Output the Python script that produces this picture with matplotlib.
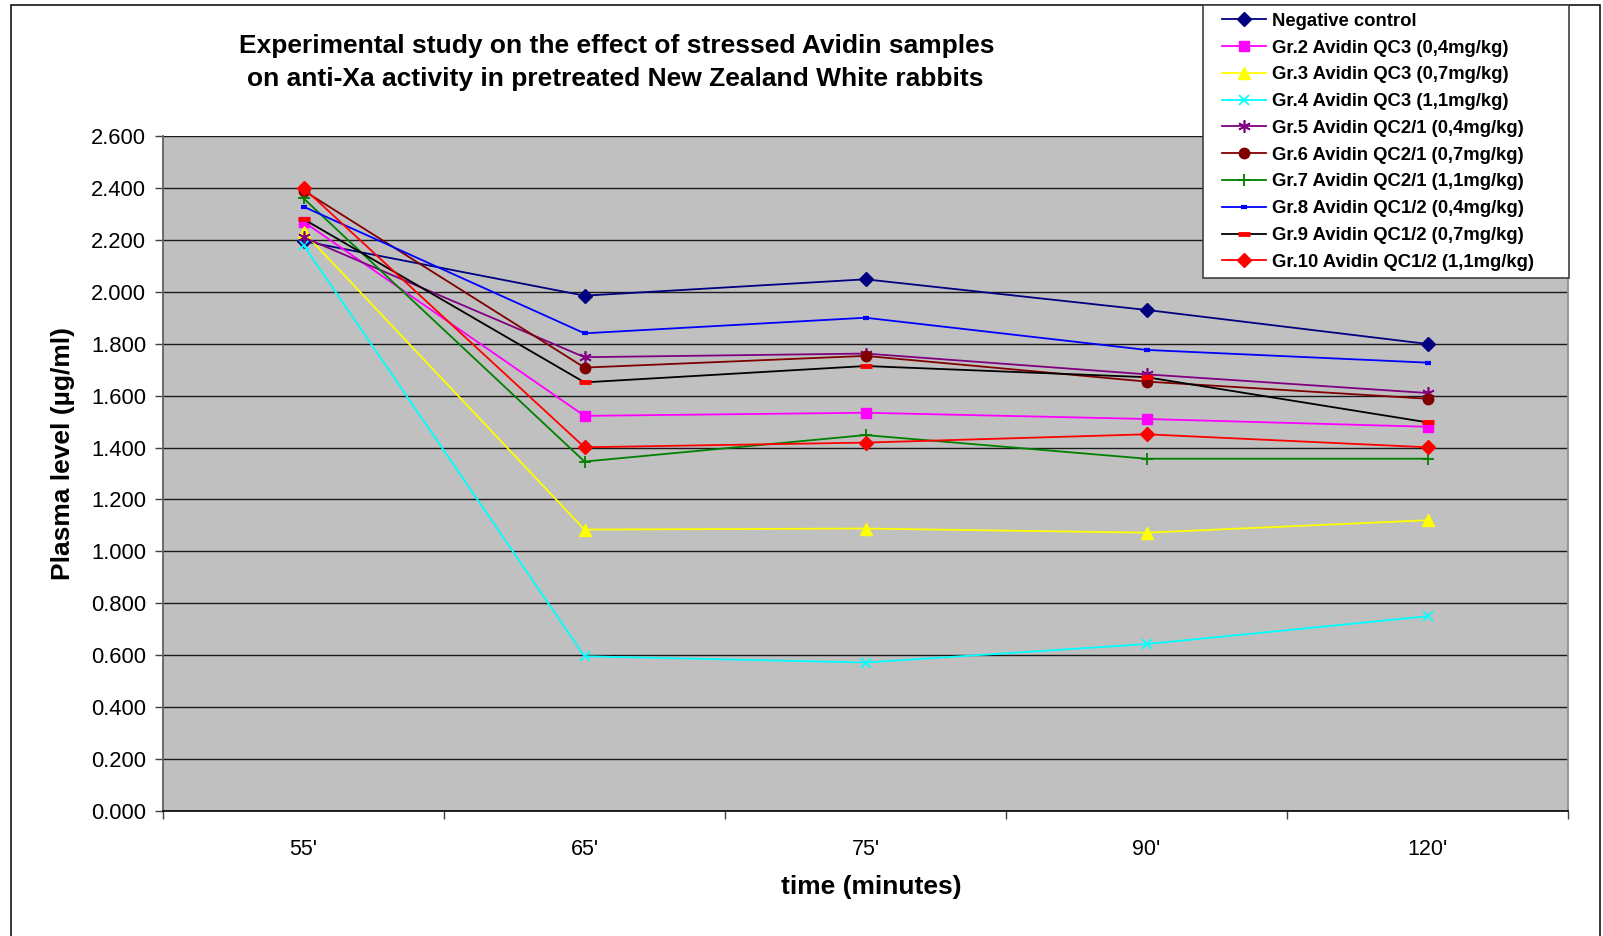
import matplotlib
matplotlib.use("Agg")
import matplotlib.pyplot as plt
from matplotlib.patches import Rectangle
from matplotlib.ticker import FixedLocator, FormatStrFormatter

plt.rcParams['font.family'] = ['Liberation Sans', 'DejaVu Sans']

times = ["55'", "65'", "75'", "90'", "120'"]
neg_control = [2.195, 1.985, 2.048, 1.930, 1.799]
gr2 = [2.270, 1.522, 1.534, 1.510, 1.480]
gr3 = [2.230, 1.084, 1.088, 1.072, 1.120]
gr4 = [2.180, 0.596, 0.572, 0.643, 0.750]
gr5 = [2.210, 1.748, 1.762, 1.682, 1.610]
gr6 = [2.390, 1.708, 1.753, 1.654, 1.588]
gr7 = [2.360, 1.346, 1.448, 1.357, 1.357]
gr8 = [2.328, 1.840, 1.900, 1.776, 1.727]
gr9 = [2.280, 1.651, 1.714, 1.671, 1.497]
gr10 = [2.400, 1.401, 1.419, 1.451, 1.401]

labels = ["Negative control",
          "Gr.2 Avidin QC3 (0,4mg/kg)",
          "Gr.3 Avidin QC3 (0,7mg/kg)",
          "Gr.4 Avidin QC3 (1,1mg/kg)",
          "Gr.5 Avidin QC2/1 (0,4mg/kg)",
          "Gr.6 Avidin QC2/1 (0,7mg/kg)",
          "Gr.7 Avidin QC2/1 (1,1mg/kg)",
          "Gr.8 Avidin QC1/2 (0,4mg/kg)",
          "Gr.9 Avidin QC1/2 (0,7mg/kg)",
          "Gr.10 Avidin QC1/2 (1,1mg/kg)"]
series = [neg_control, gr2, gr3, gr4, gr5, gr6, gr7, gr8, gr9, gr10]

# style: (line color, marker, marker color, marker size, mew)
styles = [
    ('#000080', 'D', '#000080', 7.5, 1.0),
    ('#FF00FF', 's', '#FF00FF', 7.0, 1.0),
    ('#FFFF00', '^', '#FFFF00', 8.0, 1.0),
    ('#00FFFF', 'x', '#00FFFF', 7.5, 1.3),
    ('#800080', (6, 2, 0), '#800080', 9.0, 1.2),
    ('#800000', 'o', '#800000', 7.5, 1.0),
    ('#008000', '+', '#008000', 9.0, 1.3),
    ('#0000FF', '_', '#0000FF', 5.0, 3.0),
    ('#000000', '_', '#FF0000', 8.0, 3.5),
    ('#FF0000', 'D', '#FF0000', 7.5, 1.0),
]

W, H = 1603, 936
fig = plt.figure(figsize=(W / 100, H / 100), dpi=100)
fig.patch.set_facecolor('white')

L, R, T, B = 163, 1568, 136, 811
ax = fig.add_axes([L / W, (H - B) / H, (R - L) / W, (B - T) / H])
ax.set_facecolor('#C0C0C0')

x = list(range(len(times)))
for vals, lab, (lc, mk, mc, ms, mew) in zip(series, labels, styles):
    ax.plot(x, vals, color=lc, lw=1.3, marker=mk, markersize=ms,
            markerfacecolor=mc, markeredgecolor=mc, markeredgewidth=mew,
            label=lab, zorder=3)

ax.set_xlim(-0.5, len(times) - 0.5)
ax.set_ylim(0, 2.6)
yt = [i * 0.2 for i in range(14)]
ax.set_yticks(yt)
ax.yaxis.set_major_formatter(FormatStrFormatter('%.3f'))
ax.yaxis.grid(True, color='#1a1a1a', lw=1.0)
ax.set_axisbelow(True)

ax.xaxis.set_major_locator(FixedLocator([i - 0.5 for i in range(len(times) + 1)]))
ax.xaxis.set_minor_locator(FixedLocator(x))
ax.set_xticklabels([])
ax.set_xticklabels(times, minor=True)
ax.tick_params(axis='x', which='major', length=6, width=1, color='#404040', direction='out')
ax.tick_params(axis='x', which='minor', length=0, pad=20, labelsize=15.5)
ax.tick_params(axis='y', length=6, width=1, color='#404040', direction='out', pad=6, labelsize=15.8)

ax.spines['top'].set_visible(False)
ax.spines['left'].set_color('#606060')
ax.spines['left'].set_linewidth(1.3)
ax.spines['right'].set_color('#909090')
ax.spines['right'].set_linewidth(1.3)
ax.spines['bottom'].set_color('#000000')
ax.spines['bottom'].set_linewidth(1.2)

# titles and axis labels
fig.text(617 / W, 1 - 46 / H, "Experimental study on the effect of stressed Avidin samples",
         ha='center', va='center', fontsize=19, fontweight='bold')
fig.text(615 / W, 1 - 79 / H, "on anti-Xa activity in pretreated New Zealand White rabbits",
         ha='center', va='center', fontsize=19, fontweight='bold')
fig.text(871 / W, 1 - 887 / H, "time (minutes)", ha='center', va='center',
         fontsize=19, fontweight='bold')
fig.text(63 / W, 1 - 453 / H, "Plasma level (µg/ml)", ha='center', va='center',
         rotation=90, fontsize=19, fontweight='bold')

# outer frame
fig.patches.append(Rectangle((11 / W, -0.05), (1600 - 11) / W, 1.05 - 5 / H,
                             transform=fig.transFigure, fill=False,
                             edgecolor='black', lw=1.1, zorder=1))

# legend box
fig.patches.append(Rectangle((1203 / W, 1 - 278 / H), (1569 - 1203) / W, (278 - 5) / H,
                             transform=fig.transFigure, facecolor='white',
                             edgecolor='#404040', lw=1.2, zorder=4))
handles, labs = ax.get_legend_handles_labels()
leg = fig.legend(handles, labs, loc='upper left',
                 bbox_to_anchor=(1214 / W, 1 - 5 / H), bbox_transform=fig.transFigure,
                 frameon=False, prop={'weight': 'bold', 'size': 13.3},
                 handlelength=2.4, handletextpad=0.3, borderpad=0.42,
                 borderaxespad=0, labelspacing=0.53)
leg.set_zorder(5)

fig.savefig('out.png', dpi=100)
